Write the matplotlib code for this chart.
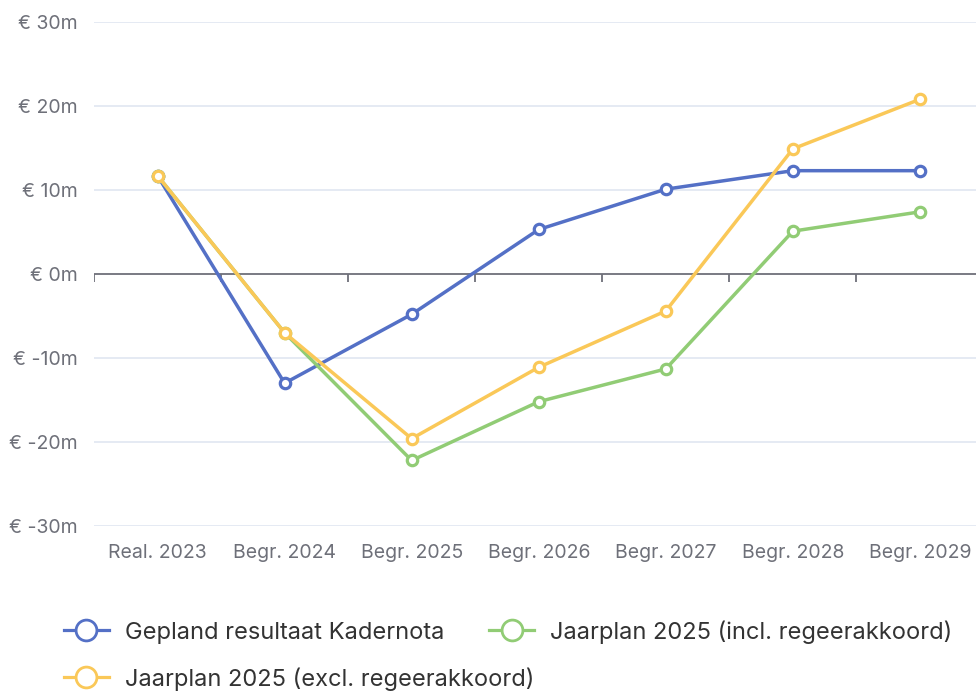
import matplotlib
matplotlib.use("Agg")
import matplotlib.pyplot as plt
from matplotlib.lines import Line2D

plt.rcParams['font.family'] = ['Inter', 'DejaVu Sans']

categories = ['Real. 2023', 'Begr. 2024', 'Begr. 2025', 'Begr. 2026',
              'Begr. 2027', 'Begr. 2028', 'Begr. 2029']
kadernota = [11.7, -13.0, -4.8, 5.3, 10.1, 12.3, 12.3]
incl_akkoord = [11.7, -7.0, -22.2, -15.2, -11.3, 5.1, 7.4]
excl_akkoord = [11.7, -7.0, -19.6, -11.1, -4.4, 14.9, 20.8]
y_ticks = [-30, -20, -10, 0, 10, 20, 30]

BLUE, GREEN, YELLOW = '#5470C6', '#91CC75', '#FAC858'
LABEL_C = '#6E7079'
GRID_C = '#E0E6F1'

W, H = 976, 691
fig = plt.figure(figsize=(W / 100, H / 100), dpi=100)
ax = fig.add_axes([94 / W, 1 - 526 / H, (W - 94) / W, (526 - 22) / H])

x = list(range(len(categories)))
series = [(kadernota, BLUE), (incl_akkoord, GREEN), (excl_akkoord, YELLOW)]
for vals, col in series:
    ax.plot(x, vals, color=col, lw=2.5, marker='o', ms=7.5,
            mfc='white', mec=col, mew=2.3, zorder=3, solid_joinstyle='round')

# gridlines and zero axis
for yt in y_ticks:
    if yt == 0:
        continue
    ax.axhline(yt, color=GRID_C, lw=1.2, zorder=1)
ax.axhline(0, color=LABEL_C, lw=1.3, zorder=2)
for k in range(len(categories) + 1):
    ax.plot([k - 0.5, k - 0.5], [0, -0.95], color=LABEL_C, lw=1.3, zorder=2,
            solid_capstyle='butt')

ax.set_xlim(-0.5, 6 + 56 / 127)
ax.set_ylim(-30, 30)
ax.set_xticks(x)
ax.set_xticklabels(categories)
ax.set_yticks(y_ticks)
ax.set_yticklabels([f'€ {v}m' for v in y_ticks])
ax.tick_params(axis='both', length=0, labelsize=14, labelcolor=LABEL_C)
ax.tick_params(axis='y', pad=12)
ax.tick_params(axis='x', pad=13)
for s in ax.spines.values():
    s.set_visible(False)

def handle(col):
    return Line2D([0], [0], color=col, lw=2.3, marker='o', ms=15,
                  mfc='white', mec=col, mew=2.0)

leg_kw = dict(frameon=False, fontsize=17, handlelength=1.9, handletextpad=0.68,
              labelcolor='#333333', borderpad=0, borderaxespad=0)
leg1 = fig.legend([handle(BLUE), handle(GREEN)],
                  ['Gepland resultaat Kadernota', 'Jaarplan 2025 (incl. regeerakkoord)'],
                  ncol=2, columnspacing=1.9, loc='center left',
                  bbox_to_anchor=(64 / W, 1 - 632 / H), **leg_kw)
leg2 = fig.legend([handle(YELLOW)], ['Jaarplan 2025 (excl. regeerakkoord)'],
                  loc='center left', bbox_to_anchor=(64 / W, 1 - 679 / H), **leg_kw)

fig.savefig('out.png', dpi=100)
